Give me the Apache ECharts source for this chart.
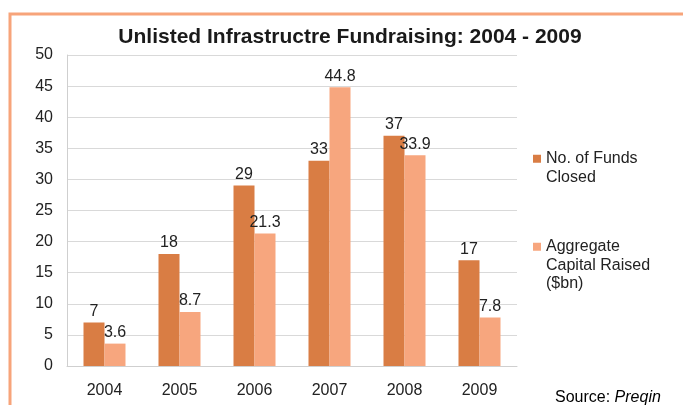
<!DOCTYPE html>
<html><head><meta charset="utf-8">
<script src="https://cdn.jsdelivr.net/npm/echarts@6/dist/echarts.min.js"></script>
<style>html,body{margin:0;padding:0;background:#fff}#c{width:683px;height:405px}</style>
</head><body><div id="c"></div>
<script>
const categories = ['2004','2005','2006','2007','2008','2009'];
const fundsClosed = [7, 18, 29, 33, 37, 17];
const capitalRaised = [3.6, 8.7, 21.3, 44.8, 33.9, 7.8];
const yTicks = [0, 5, 10, 15, 20, 25, 30, 35, 40, 45, 50];
const seriesNames = ['No. of Funds Closed', 'Aggregate Capital Raised ($bn)'];
const legendLabels = {'No. of Funds Closed': '\nNo. of Funds\nClosed', 'Aggregate Capital Raised ($bn)': '\n\nAggregate\nCapital Raised\n($bn)'};

const font = '"Liberation Sans", Arial, sans-serif';
const chart = echarts.init(document.getElementById('c'), null, {renderer: 'canvas'});
const labelStyle = {show: true, position: 'top', color: '#222', fontSize: 16, fontFamily: font, distance: 3};
chart.setOption({
  animation: false,
  title: {
    text: 'Unlisted Infrastructre Fundraising: 2004 - 2009',
    left: 345, textAlign: 'center', top: 22,
    textStyle: {fontFamily: font, fontWeight: 'bold', fontSize: 21, color: '#1a1a1a'}
  },
  graphic: [
    {type: 'polyline', shape: {points: [[10, 405], [10, 14], [683, 14]]}, style: {stroke: '#F7A47A', lineWidth: 3, fill: null}, silent: true},
    {type: 'text', left: 555, top: 390, style: {
      text: '{n|Source: }{i|Preqin}',
      rich: {n: {fontFamily: font, fontSize: 16, color: '#222'}, i: {fontFamily: font, fontSize: 16, fontStyle: 'italic', color: '#222'}}
    }}
  ],
  grid: {left: 67, right: 166, top: 55, bottom: 39},
  legend: {
    orient: 'vertical', left: 528, top: 126, itemGap: 14,
    itemWidth: 8, itemHeight: 8, icon: 'rect',
    data: seriesNames,
    formatter: n => legendLabels[n],
    textStyle: {fontFamily: font, fontSize: 16, color: '#222', lineHeight: 18.5}
  },
  xAxis: {
    type: 'category', data: categories,
    axisLine: {show: true, lineStyle: {color: '#cfcfcf', width: 1}},
    axisTick: {show: false},
    axisLabel: {fontFamily: font, fontSize: 16, color: '#222', margin: 17}
  },
  yAxis: {
    type: 'value', min: yTicks[0], max: yTicks[yTicks.length - 1], interval: 5,
    axisLine: {show: true, lineStyle: {color: '#cfcfcf'}},
    axisTick: {show: false},
    splitLine: {lineStyle: {color: '#d9d9d9', width: 1}},
    axisLabel: {fontFamily: font, fontSize: 16, color: '#222', margin: 14}
  },
  series: [
    {name: seriesNames[0], type: 'bar', data: fundsClosed, barWidth: 21, barGap: '0%',
     itemStyle: {color: '#D97D44'}, label: labelStyle},
    {name: seriesNames[1], type: 'bar', data: capitalRaised, barWidth: 21,
     itemStyle: {color: '#F7A67E'}, label: labelStyle}
  ]
});
</script></body></html>
